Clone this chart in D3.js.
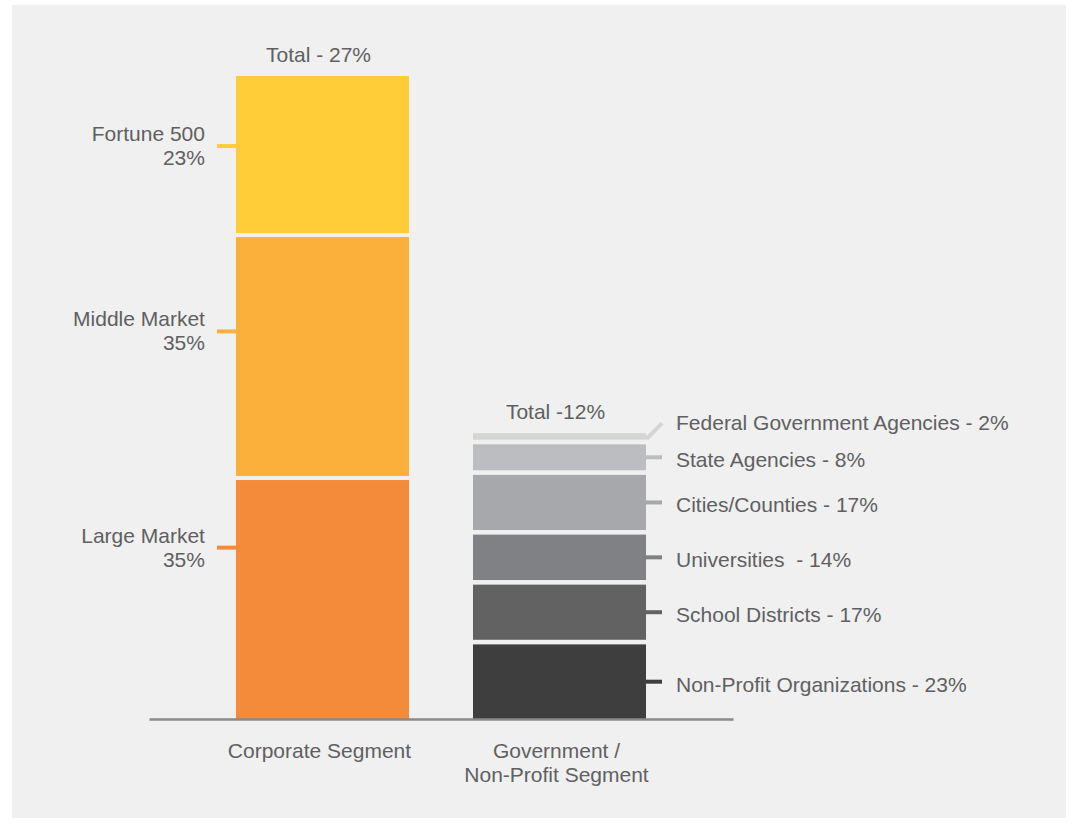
<!DOCTYPE html>
<html>
<head>
<meta charset="utf-8">
<script src="https://cdn.jsdelivr.net/npm/d3@7"></script>
<style>
  html, body { margin: 0; padding: 0; background: #ffffff; }
  svg text { font-family: "Liberation Sans", Arial, Helvetica, sans-serif; font-size: 21px; fill: #5f6062; white-space: pre; }
</style>
</head>
<body>
<svg id="chart" width="1078" height="824"></svg>
<script>
// Segments on the x axis
const categories = ["Corporate Segment", "Government / Non-Profit Segment"];
const categoryLines = [["Corporate Segment"], ["Government /", "Non-Profit Segment"]];

// Share of each segment (sets bar height)
const totals = [27, 12];
const totalLabels = ["Total - 27%", "Total -12%"];

// Corporate breakdown, bottom to top
const corporateNames = ["Large Market", "Middle Market", "Fortune 500"];
const corporateShares = [35, 35, 23];

// Government / non-profit breakdown, bottom to top
const governmentNames = ["Non-Profit Organizations", "School Districts", "Universities ", "Cities/Counties", "State Agencies", "Federal Government Agencies"];
const governmentShares = [23, 17, 14, 17, 8, 2];

// Styling
const corporateColors = ["#f48b3a", "#fbb03b", "#fecd38"];
const governmentColors = ["#3d3e3d", "#616261", "#808184", "#a7a8ab", "#bcbdc0", "#d5d5d4"];
const corporateTickFrac = [0.283, 0.395, 0.446]; // leader position within each block, from its top

const svg = d3.select("#chart");

// panel background
svg.append("rect")
  .attr("x", 12).attr("y", 5)
  .attr("width", 1054).attr("height", 813)
  .attr("fill", "#eff0ef");

const x = d3.scaleBand()
  .domain(categories)
  .range([149, 733])
  .paddingInner(0.27)
  .paddingOuter(0.367);

const y = d3.scaleLinear()
  .domain([0, 27])
  .range([719, 76]);

// Build stacked blocks for a bar: total height from y(total), blocks split it by share
function buildBlocks(cat, total, names, shares, colors, gap) {
  const sum = d3.sum(shares);
  const barTop = y(total), barBottom = y(0);
  const inner = d3.scaleLinear()
    .domain([0, sum])
    .range([0, (barBottom - barTop) - gap * (shares.length - 1)]);
  let cum = 0;
  return shares.map((s, i) => {
    const bottom = barBottom - inner(cum) - i * gap;
    const top = bottom - inner(s);
    cum += s;
    return { cat, name: names[i], share: s, color: colors[i], top, bottom, mid: (top + bottom) / 2, i };
  });
}

const corpBlocks = buildBlocks(categories[0], totals[0], corporateNames, corporateShares, corporateColors, 4);
const govBlocks = buildBlocks(categories[1], totals[1], governmentNames, governmentShares, governmentColors, 4.6);

const bars = svg.append("g");
bars.selectAll("rect.corp")
  .data(corpBlocks)
  .join("rect")
  .attr("class", "corp")
  .attr("x", d => x(d.cat))
  .attr("width", x.bandwidth())
  .attr("y", d => d.top)
  .attr("height", d => d.bottom - d.top)
  .attr("fill", d => d.color);

bars.selectAll("rect.gov")
  .data(govBlocks)
  .join("rect")
  .attr("class", "gov")
  .attr("x", d => x(d.cat))
  .attr("width", x.bandwidth())
  .attr("y", d => d.top)
  .attr("height", d => d.bottom - d.top)
  .attr("fill", d => d.color);

// Totals above bars
svg.append("g").selectAll("text")
  .data(categories)
  .join("text")
  .attr("x", d => x(d) + x.bandwidth() / 2 - 4)
  .attr("y", (d, i) => y(totals[i]) - 14)
  .attr("text-anchor", "middle")
  .text((d, i) => totalLabels[i]);

// Corporate labels on the left with short leaders
const corpLeft = x(categories[0]);
const corpLabels = svg.append("g");
corpBlocks.forEach((d, i) => {
  const ty = d.top + (d.bottom - d.top) * corporateTickFrac[i];
  corpLabels.append("line")
    .attr("x1", corpLeft - 19).attr("x2", corpLeft)
    .attr("y1", ty).attr("y2", ty)
    .attr("stroke", d.color).attr("stroke-width", 4);
  const t = corpLabels.append("text")
    .attr("x", corpLeft - 31)
    .attr("y", ty - 5)
    .attr("text-anchor", "end");
  t.append("tspan").text(d.name);
  t.append("tspan").attr("x", corpLeft - 31).attr("dy", 24).text(d.share + "%");
});

// Government labels on the right; push crowded labels upward
const govRight = x(categories[1]) + x.bandwidth();
const labelY = [];
govBlocks.forEach((d, i) => {
  let ly = d.mid;
  if (i > 0) ly = Math.min(ly, labelY[i - 1] - 37);
  labelY.push(ly);
});
const govLabels = svg.append("g");
govBlocks.forEach((d, i) => {
  const ly = labelY[i];
  if (Math.abs(ly - d.mid) < 0.5) {
    govLabels.append("line")
      .attr("x1", govRight).attr("x2", govRight + 16)
      .attr("y1", d.mid).attr("y2", d.mid)
      .attr("stroke", d.color).attr("stroke-width", 4);
  } else {
    govLabels.append("path")
      .attr("d", `M${govRight},${d.mid + 1}L${govRight + 2},${d.mid + 1}L${govRight + 16},${ly + 3}`)
      .attr("fill", "none")
      .attr("stroke", d.color).attr("stroke-width", 4);
  }
  govLabels.append("text")
    .attr("x", govRight + 30)
    .attr("y", ly + 10)
    .text(`${d.name} - ${d.share}%`);
});

// Baseline axis
const axis = svg.append("g")
  .attr("transform", `translate(0,${y(0)})`)
  .call(d3.axisBottom(x).tickSize(0).tickSizeOuter(0).tickFormat(""));
axis.select(".domain").attr("stroke", "#8a8a8a").attr("stroke-width", 2.5);

// Category labels under the axis
const catLabels = svg.append("g");
categories.forEach((c, i) => {
  const cx = x(c) + x.bandwidth() / 2 - 3;
  const t = catLabels.append("text")
    .attr("x", cx)
    .attr("y", 758)
    .attr("text-anchor", "middle");
  categoryLines[i].forEach((line, j) => {
    t.append("tspan")
      .attr("x", cx)
      .attr("dy", j === 0 ? 0 : 24)
      .text(line);
  });
});
</script>
</body>
</html>
